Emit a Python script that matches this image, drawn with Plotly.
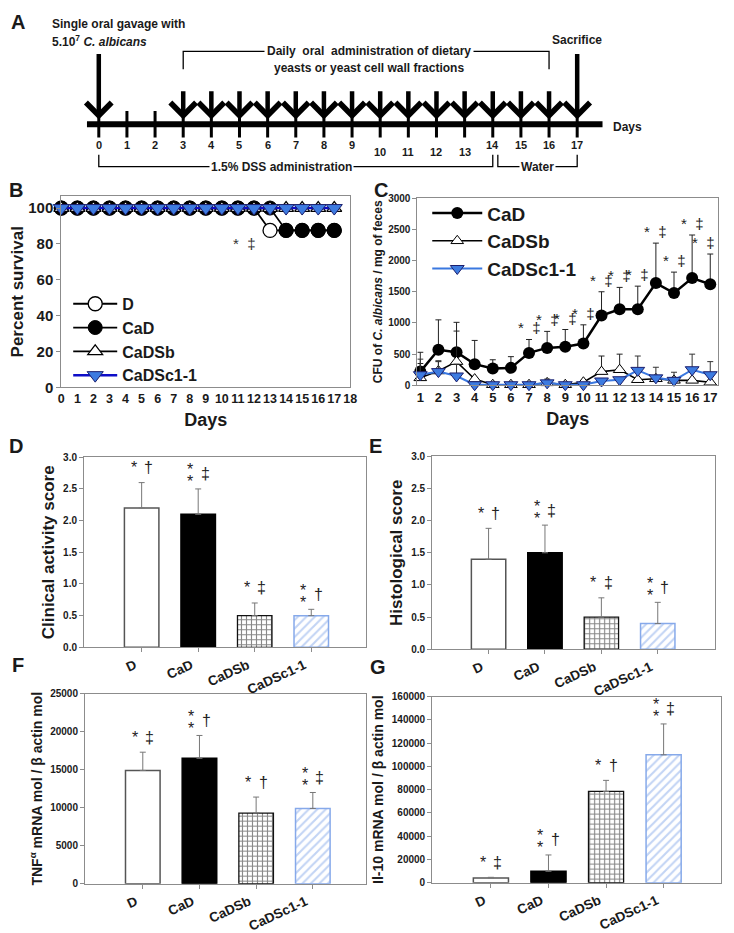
import plotly.graph_objects as go

# ------------------------------------------------------------------ data
# Panel A - experimental timeline (days)
timeline_days = [0, 1, 2, 3, 4, 5, 6, 7, 8, 9, 10, 11, 12, 13, 14, 15, 16, 17]
gavage_day = 0
dosing_days = [3, 4, 5, 6, 7, 8, 9, 10, 11, 12, 13, 14, 15, 16]
sacrifice_day = 17
dss_days = [0, 14]
water_days = [14, 17]
lowered_day_labels = [10, 11, 12, 13]

# Panel B - percent survival
surv_days = [0, 1, 2, 3, 4, 5, 6, 7, 8, 9, 10, 11, 12, 13, 14, 15, 16, 17]
surv_D = [100, 100, 100, 100, 100, 100, 100, 100, 100, 100, 100, 100, 100, 87.5, 87.5, 87.5, 87.5, 87.5]
surv_CaD = [100, 100, 100, 100, 100, 100, 100, 100, 100, 100, 100, 100, 100, 100, 87.5, 87.5, 87.5, 87.5]
surv_CaDSb = [100, 100, 100, 100, 100, 100, 100, 100, 100, 100, 100, 100, 100, 100, 100, 100, 100, 100]
surv_CaDSc = [100, 100, 100, 100, 100, 100, 100, 100, 100, 100, 100, 100, 100, 100, 100, 100, 100, 100]
surv_ticks_x = [0, 1, 2, 3, 4, 5, 6, 7, 8, 9, 10, 11, 12, 13, 14, 15, 16, 17, 18]
surv_ticks_y = [0, 20, 40, 60, 80, 100]
surv_sig_day = 11.4
surv_sig_value = 80

# Panel C - CFU of C. albicans / mg of feces
cfu_days = [1, 2, 3, 4, 5, 6, 7, 8, 9, 10, 11, 12, 13, 14, 15, 16, 17]
cfu_CaD = [220, 570, 530, 340, 270, 280, 520, 600, 620, 670, 1120, 1220, 1220, 1640, 1480, 1720, 1620]
cfu_CaD_err = [310, 480, 480, 380, 140, 180, 215, 265, 275, 300, 380, 350, 370, 640, 335, 690, 485]
cfu_CaDSb = [120, 230, 380, 100, 10, 10, 10, 40, 10, 50, 220, 250, 90, 105, 80, 80, 50]
cfu_CaDSb_err = [230, 150, 490, 0, 0, 0, 0, 0, 0, 0, 250, 250, 0, 0, 0, 0, 0]
cfu_CaDSc = [170, 220, 150, 10, 10, 10, 10, 40, 10, 10, 70, 90, 240, 120, 80, 250, 170]
cfu_CaDSc_err = [250, 175, 190, 0, 0, 0, 0, 60, 0, 0, 0, 0, 230, 170, 130, 250, 210]
cfu_sig_days = [7, 8, 9, 10, 11, 12, 13, 14, 15, 16, 17]

# Panels D-G - group comparisons
groups = ["D", "CaD", "CaDSb", "CaDSc1-1"]
cas_mean = [2.2, 2.1, 0.5, 0.5]
cas_err = [0.4, 0.4, 0.2, 0.1]
hist_mean = [1.4, 1.5, 0.5, 0.4]
hist_err = [0.48, 0.43, 0.3, 0.33]
tnf_mean = [14900, 16500, 9300, 9900]
tnf_err = [2400, 3000, 2100, 2100]
il10_mean = [4200, 9900, 78500, 110000]
il10_err = [500, 14000, 9500, 26500]
stars_DE = [1, 2, 1, 2]
daggers_DE = ["†", "‡", "‡", "†"]
stars_FG = [1, 2, 1, 2]
daggers_FG = ["‡", "†", "†", "‡"]

# ------------------------------------------------------------------ style
W, H = 734, 933
OFF = 8  # page body margin of the html page
FONT = "Liberation Sans, Arial, sans-serif"
INK = "#1a1a1a"
FRAME = "#8c8c8c"
BLUE_FILL = "#3d7be0"
BLUE_EDGE = "#1b1f6e"
BLUE_LINE_B = "#0d0dc8"
BLUE_LINE_C = "#3a78e0"
HATCH_BLUE = "#86a9ea"


def dom_x(l, r):
    return [(l - OFF) / W, (r - OFF) / W]


def dom_y(t, b):
    return [1 - (b - OFF) / H, 1 - (t - OFF) / H]


def bold(size, color=INK):
    return dict(family=FONT, size=size, color=color, weight="bold")


def framed(**kw):
    base = dict(showline=True, linecolor=FRAME, linewidth=1, mirror=True,
                showgrid=False, zeroline=False, ticks="outside", ticklen=4,
                tickcolor=FRAME, tickwidth=1)
    base.update(kw)
    return base


fig = go.Figure()
ann = []

# ------------------------------------------------------------------ panel A
DAY_PX = 28.53
DAY0_PX = 97
LINE_Y = 120
common_a = dict(xaxis="x", yaxis="y", showlegend=False, hoverinfo="skip")
fig.add_trace(go.Scatter(x=[timeline_days[0] - 0.42, timeline_days[-1] + 0.9], y=[LINE_Y, LINE_Y],
                         mode="lines", line=dict(color="black", width=6), **common_a))
fig.add_trace(go.Scatter(x=timeline_days, y=[LINE_Y] * len(timeline_days), mode="markers",
                         marker=dict(symbol="line-ns", size=19, line=dict(color="black", width=3)),
                         **common_a))
fig.add_trace(go.Scatter(x=[dosing_days[0], dosing_days[0], dosing_days[-1], dosing_days[-1]],
                         y=[64, 46, 46, 64], mode="lines", line=dict(color="black", width=1.3),
                         **common_a))
fig.add_trace(go.Scatter(x=[dss_days[0], dss_days[0], dss_days[1], dss_days[1]],
                         y=[151, 163, 163, 151], mode="lines", line=dict(color="black", width=1.3),
                         **common_a))
fig.add_trace(go.Scatter(x=[water_days[0] + 0.18, water_days[0] + 0.18, water_days[1], water_days[1]],
                         y=[151, 163, 163, 151], mode="lines", line=dict(color="black", width=1.3),
                         **common_a))


def arrow(day, top, tip=115):
    ann.append(dict(x=day, y=tip, ax=day, ay=top, xref="x", yref="y", axref="x", ayref="y",
                    showarrow=True, arrowhead=4, arrowwidth=4.5, arrowsize=1.1,
                    arrowcolor="black", text=""))


arrow(gavage_day, 47)
for d in dosing_days:
    arrow(d, 85)
arrow(sacrifice_day, 47)

for d in timeline_days:
    ann.append(dict(x=d, y=(148 if d in lowered_day_labels else 141), xref="x", yref="y",
                    text=str(d), showarrow=False, font=bold(11)))

a_font = bold(12)
ann += [
    dict(x=-1.75, y=18, xref="x", yref="y", text="Single oral gavage with", showarrow=False,
         xanchor="left", font=a_font),
    dict(x=-1.75, y=35, xref="x", yref="y", text="5.10<sup>7</sup> <i>C. albicans</i>", showarrow=False,
         xanchor="left", font=a_font),
    dict(x=sacrifice_day, y=34, xref="x", yref="y", text="Sacrifice", showarrow=False, font=a_font),
    dict(x=9.6, y=46, xref="x", yref="y", text="Daily  oral  administration of dietary",
         showarrow=False, font=a_font, bgcolor="white", borderpad=2),
    dict(x=9.6, y=63, xref="x", yref="y", text="yeasts or yeast cell wall fractions",
         showarrow=False, font=a_font),
    dict(x=timeline_days[-1] + 1.2, y=LINE_Y + 3, xref="x", yref="y", text="Days", showarrow=False,
         xanchor="left", font=a_font),
    dict(x=6.5, y=163, xref="x", yref="y", text="1.5% DSS administration", showarrow=False,
         font=a_font, bgcolor="white", borderpad=1),
    dict(x=15.6, y=163, xref="x", yref="y", text="Water", showarrow=False,
         font=a_font, bgcolor="white", borderpad=1),
]

# ------------------------------------------------------------------ panel B
fig.add_trace(go.Scatter(x=surv_days, y=surv_D, name="D", mode="lines+markers",
                         line=dict(color="black", width=1.8),
                         marker=dict(symbol="circle", size=14, color="white", line=dict(color="black", width=1.3)),
                         xaxis="x2", yaxis="y2", legend="legend", cliponaxis=False))
fig.add_trace(go.Scatter(x=surv_days, y=surv_CaD, name="CaD", mode="lines+markers",
                         line=dict(color="black", width=1.8),
                         marker=dict(symbol="circle", size=14, color="black", line=dict(color="black", width=1)),
                         xaxis="x2", yaxis="y2", legend="legend", cliponaxis=False))
fig.add_trace(go.Scatter(x=surv_days, y=surv_CaDSb, name="CaDSb", mode="lines+markers",
                         line=dict(color="black", width=1.8),
                         marker=dict(symbol="triangle-up", size=13, color="white", line=dict(color="black", width=1.2)),
                         xaxis="x2", yaxis="y2", legend="legend", cliponaxis=False))
fig.add_trace(go.Scatter(x=surv_days, y=surv_CaDSc, name="CaDSc1-1", mode="lines+markers",
                         line=dict(color=BLUE_LINE_B, width=2.5),
                         marker=dict(symbol="triangle-down", size=14, color=BLUE_FILL, line=dict(color=BLUE_EDGE, width=1)),
                         xaxis="x2", yaxis="y2", legend="legend", cliponaxis=False))
ann.append(dict(x=surv_sig_day, y=surv_sig_value, xref="x2", yref="y2", text="*  ‡", showarrow=False,
                font=dict(family=FONT, size=15, color="#333")))

# ------------------------------------------------------------------ panel C
fig.add_trace(go.Scatter(x=cfu_days, y=cfu_CaD, name="CaD", mode="lines+markers",
                         line=dict(color="black", width=2.5),
                         marker=dict(symbol="circle", size=12, color="black"),
                         error_y=dict(type="data", array=cfu_CaD_err, arrayminus=[0] * len(cfu_days),
                                      symmetric=False, color="#222", thickness=1, width=3),
                         xaxis="x3", yaxis="y3", legend="legend2", cliponaxis=False))
fig.add_trace(go.Scatter(x=cfu_days, y=cfu_CaDSb, name="CaDSb", mode="lines+markers",
                         line=dict(color="black", width=1.6),
                         marker=dict(symbol="triangle-up", size=11, color="white", line=dict(color="black", width=1)),
                         error_y=dict(type="data", array=cfu_CaDSb_err, arrayminus=[0] * len(cfu_days),
                                      symmetric=False, color="#222", thickness=1, width=3),
                         xaxis="x3", yaxis="y3", legend="legend2", cliponaxis=False))
fig.add_trace(go.Scatter(x=cfu_days, y=cfu_CaDSc, name="CaDSc1-1", mode="lines+markers",
                         line=dict(color=BLUE_LINE_C, width=2),
                         marker=dict(symbol="triangle-down", size=12, color=BLUE_FILL, line=dict(color=BLUE_EDGE, width=1)),
                         error_y=dict(type="data", array=cfu_CaDSc_err, arrayminus=[0] * len(cfu_days),
                                      symmetric=False, color="#333", thickness=1, width=3),
                         xaxis="x3", yaxis="y3", legend="legend2", cliponaxis=False))
for d in cfu_sig_days:
    i = cfu_days.index(d)
    ann.append(dict(x=d, y=cfu_CaD[i] + cfu_CaD_err[i], xref="x3", yref="y3", text="*  ‡",
                    showarrow=False, yanchor="bottom", yshift=1, xshift=(-7 if d == cfu_days[-1] else 0),
                    font=dict(family=FONT, size=15, color="#222")))

# ------------------------------------------------------------------ panels D-G
bar_styles = [
    dict(color="white", line=dict(color="#555", width=1.5)),
    dict(color="black", line=dict(color="black", width=1.5)),
    dict(color="white", line=dict(color="#111", width=1.3),
         pattern=dict(shape="+", fgcolor="#111", bgcolor="white", size=5, solidity=0.4)),
    dict(color="white", line=dict(color=HATCH_BLUE, width=1.5),
         pattern=dict(shape="/", fgcolor=HATCH_BLUE, bgcolor="white", size=6, solidity=0.35)),
]


def bar_panel(xref, yref, means, errs, stars, daggers):
    for i, g in enumerate(groups):
        fig.add_trace(go.Bar(x=[g], y=[means[i]], width=0.61, marker=bar_styles[i],
                             error_y=dict(type="data", array=[errs[i]], arrayminus=[0], symmetric=False,
                                          color="#777", thickness=1, width=3),
                             xaxis=xref, yaxis=yref, showlegend=False))
        top = means[i] + errs[i]
        f = dict(family=FONT, size=16, color="#222")
        ann.append(dict(x=g, y=top, xref=xref, yref=yref, text=daggers[i], showarrow=False,
                        yanchor="middle", yshift=15, xshift=7, font=f))
        shifts = [15] if stars[i] == 1 else [19, 7]
        for s in shifts:
            ann.append(dict(x=g, y=top, xref=xref, yref=yref, text="*", showarrow=False,
                            yanchor="middle", yshift=s, xshift=-8, font=f))


bar_panel("x4", "y4", cas_mean, cas_err, stars_DE, daggers_DE)
bar_panel("x5", "y5", hist_mean, hist_err, stars_DE, daggers_DE)
bar_panel("x6", "y6", tnf_mean, tnf_err, stars_FG, daggers_FG)
bar_panel("x7", "y7", il10_mean, il10_err, stars_FG, daggers_FG)

# panel letters (centre positions in page pixels)
for letter, x, y in [("A", 15, 16), ("B", 13, 187), ("C", 383, 187), ("D", 13, 447),
                     ("E", 378, 447), ("F", 15, 669), ("G", 380, 671)]:
    ann.append(dict(x=(x - OFF) / W, y=1 - (y - OFF) / H, xref="paper", yref="paper", text=letter,
                    showarrow=False, xanchor="center", yanchor="middle", font=bold(20)))

cat_x = dict(tickangle=-25, tickfont=bold(13.5), ticks="outside", ticklen=4, ticklabelshift=-7)

fig.update_layout(
    width=W, height=H, margin=dict(l=0, r=0, t=0, b=0),
    paper_bgcolor="white", plot_bgcolor="white", barmode="overlay",
    font=dict(family=FONT, color=INK),
    xaxis=dict(domain=[0, 1], range=[-(DAY0_PX - OFF) / DAY_PX, (W - DAY0_PX + OFF) / DAY_PX],
               visible=False, anchor="y"),
    yaxis=dict(domain=[1 - (180 - OFF) / H, 1], range=[180, OFF], visible=False, anchor="x"),
    xaxis2=framed(domain=dom_x(59, 352), range=[0, 18], anchor="y2", tickvals=surv_ticks_x,
                  ticks="", tickangle=0, tickfont=bold(12.5),
                  title=dict(text="Days", font=bold(18), standoff=8)),
    yaxis2=framed(domain=dom_y(193, 387), range=[0, 106.6], anchor="x2", tickvals=surv_ticks_y,
                  tickfont=bold(15),
                  title=dict(text="Percent survival", font=bold(17), standoff=4)),
    xaxis3=framed(domain=dom_x(420, 725), range=[0.84, 17.44], anchor="y3", tickvals=cfu_days,
                  ticks="", tickangle=0, tickfont=bold(13),
                  title=dict(text="Days", font=bold(18), standoff=8)),
    yaxis3=framed(domain=dom_y(195, 385), range=[0, 3000], anchor="x3", dtick=500,
                  tickfont=bold(10),
                  title=dict(text="CFU of <i>C. albicans</i> / mg of feces", font=bold(12), standoff=2)),
    xaxis4=framed(domain=dom_x(82, 368), range=[-1.02, 3.97], anchor="y4", **cat_x),
    yaxis4=framed(domain=dom_y(458, 651), range=[0, 3], anchor="x4", dtick=0.5, tickformat=".1f",
                  tickfont=bold(10),
                  title=dict(text="Clinical activity score", font=bold(17), standoff=4)),
    xaxis5=framed(domain=dom_x(435, 722), range=[-1.0, 4.02], anchor="y5", **cat_x),
    yaxis5=framed(domain=dom_y(457, 653), range=[0, 3], anchor="x5", dtick=0.5, tickformat=".1f",
                  tickfont=bold(10),
                  title=dict(text="Histological score", font=bold(17), standoff=4)),
    xaxis6=framed(domain=dom_x(83, 368), range=[-1.02, 3.94], anchor="y6", **cat_x),
    yaxis6=framed(domain=dom_y(698, 891), range=[0, 25000], anchor="x6", dtick=5000, tickformat="d",
                  tickfont=bold(10),
                  title=dict(text="TNF<sup>α</sup> mRNA mol / β actin mol", font=bold(14), standoff=4)),
    xaxis7=framed(domain=dom_x(435, 728), range=[-1.02, 4.0], anchor="y7", **cat_x),
    yaxis7=framed(domain=dom_y(701, 890), range=[0, 160000], anchor="x7", dtick=20000, tickformat="d",
                  tickfont=bold(10),
                  title=dict(text="Il-10 mRNA mol / β actin mol", font=bold(14), standoff=4)),
    legend=dict(x=(66 - OFF) / W, y=1 - (285 - OFF) / H, xanchor="left", yanchor="top", font=bold(16),
                bgcolor="rgba(0,0,0,0)", tracegroupgap=0, itemwidth=44, itemclick=False),
    legend2=dict(x=(430 - OFF) / W, y=1 - (191 - OFF) / H, xanchor="left", yanchor="top", font=bold(19),
                 bgcolor="rgba(0,0,0,0)", tracegroupgap=0, itemwidth=50, itemclick=False),
    annotations=ann,
)

fig.write_html("out.html")
